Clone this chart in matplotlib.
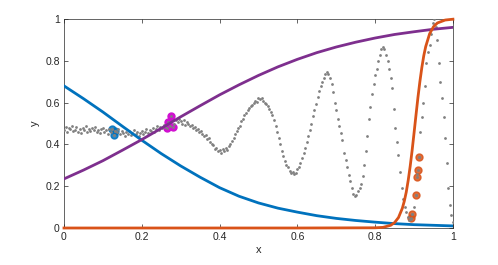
import numpy as np
import matplotlib
matplotlib.use("Agg")
import matplotlib.pyplot as plt

plt.rcParams['font.family'] = ['Liberation Sans', 'DejaVu Sans']

# noisy chirp-like samples (gray dots), x sampled every 0.004
data_x = np.linspace(0, 1, 251)
data_y = [
    0.47, 0.485, 0.46, 0.48, 0.475, 0.49, 0.465, 0.47, 0.485, 0.46,
    0.475, 0.455, 0.48, 0.47, 0.49, 0.46, 0.475, 0.465, 0.48, 0.47,
    0.485, 0.46, 0.47, 0.455, 0.475, 0.48, 0.46, 0.47, 0.45, 0.475,
    0.46, 0.472, 0.445, 0.464, 0.46, 0.475, 0.45, 0.465, 0.455, 0.44,
    0.46, 0.45, 0.465, 0.445, 0.455, 0.47, 0.45, 0.46, 0.44, 0.455,
    0.465, 0.45, 0.46, 0.475, 0.455, 0.47, 0.465, 0.48, 0.46, 0.475,
    0.49, 0.47, 0.485, 0.48, 0.495, 0.485, 0.478, 0.507, 0.49, 0.536,
    0.483, 0.50, 0.515, 0.505, 0.52, 0.51, 0.50, 0.515, 0.495, 0.505,
    0.50, 0.49, 0.495, 0.48, 0.485, 0.47, 0.475, 0.46, 0.465, 0.45,
    0.44, 0.445, 0.425, 0.43, 0.41, 0.40, 0.395, 0.38, 0.385, 0.37,
    0.375, 0.36, 0.38, 0.37, 0.385, 0.375, 0.39, 0.40, 0.415, 0.43,
    0.45, 0.465, 0.48, 0.49, 0.51, 0.52, 0.54, 0.55, 0.565, 0.575,
    0.585, 0.59, 0.60, 0.61, 0.605, 0.62, 0.615, 0.62, 0.61, 0.60,
    0.595, 0.585, 0.57, 0.555, 0.54, 0.515, 0.49, 0.46, 0.43, 0.40,
    0.37, 0.345, 0.32, 0.30, 0.29, 0.275, 0.265, 0.27, 0.26, 0.265,
    0.28, 0.29, 0.31, 0.335, 0.36, 0.385, 0.41, 0.44, 0.47, 0.50,
    0.535, 0.565, 0.595, 0.625, 0.655, 0.68, 0.70, 0.72, 0.735, 0.745,
    0.735, 0.72, 0.69, 0.65, 0.60, 0.565, 0.52, 0.49, 0.455, 0.42,
    0.36, 0.325, 0.29, 0.255, 0.225, 0.19, 0.165, 0.155, 0.16, 0.175,
    0.19, 0.21, 0.25, 0.30, 0.37, 0.44, 0.52, 0.58, 0.64, 0.69,
    0.73, 0.76, 0.80, 0.83, 0.855, 0.865, 0.855, 0.83, 0.80, 0.76,
    0.72, 0.67, 0.57, 0.48, 0.41, 0.35, 0.27, 0.19, 0.14, 0.10,
    0.075, 0.055, 0.04, 0.045, 0.065, 0.10, 0.16, 0.26, 0.34, 0.46,
    0.53, 0.60, 0.68, 0.79, 0.84, 0.875, 0.93, 0.98, 1.0, 0.96,
    0.90, 0.79, 0.70, 0.62, 0.53, 0.43, 0.31, 0.19, 0.11, 0.06,
    0.03,
]

# highlighted points
blue_x = [0.124, 0.128, 0.132]
blue_y = [0.472, 0.445, 0.464]
mag_x = [0.264, 0.268, 0.276, 0.280]
mag_y = [0.478, 0.507, 0.536, 0.483]
org_x = [0.892, 0.896, 0.904, 0.908, 0.910, 0.912]
org_y = [0.048, 0.067, 0.158, 0.244, 0.278, 0.34]

# fitted curves
curve_x = [0.0, 0.05, 0.1, 0.15, 0.2, 0.25, 0.3, 0.35, 0.4, 0.45, 0.5,
           0.55, 0.6, 0.65, 0.7, 0.75, 0.8, 0.85, 0.9, 0.95, 1.0]
blue_curve = [0.68, 0.619, 0.555, 0.487, 0.42, 0.356, 0.297, 0.243, 0.193,
              0.152, 0.12, 0.095, 0.076, 0.059, 0.046, 0.036, 0.028, 0.021,
              0.016, 0.013, 0.010]
purple_curve = [0.235, 0.277, 0.322, 0.372, 0.423, 0.477, 0.532, 0.585,
                0.637, 0.685, 0.730, 0.771, 0.807, 0.839, 0.866, 0.889,
                0.909, 0.926, 0.939, 0.951, 0.960]
orange_x = [0.0, 0.2, 0.4, 0.6, 0.8, 0.82, 0.84, 0.85, 0.86, 0.87, 0.875,
            0.88, 0.885, 0.89, 0.895, 0.9, 0.905, 0.91, 0.915, 0.92, 0.925,
            0.93, 0.94, 0.95, 0.96, 0.98, 1.0]
orange_curve = [0.0, 0.0, 0.0, 0.0, 0.001, 0.003, 0.013, 0.026, 0.05, 0.095,
                0.129, 0.172, 0.228, 0.294, 0.37, 0.454, 0.54, 0.624, 0.70,
                0.767, 0.824, 0.868, 0.929, 0.963, 0.981, 0.995, 0.999]

gray = (0.5, 0.5, 0.5)
blue = '#0072BD'
orange = '#D95319'
purple = '#7E2F8E'

fig = plt.figure(figsize=(4.98, 2.65), dpi=100)
ax = fig.add_axes([0.1285, 0.1396, 0.781, 0.7887])

ax.plot(blue_x, blue_y, 'o', ms=5, color=blue, mec=blue, alpha=0.85, zorder=2)
ax.plot(mag_x, mag_y, 'o', ms=5, color='#D010D0', mec='#D010D0', zorder=2)
ax.plot(org_x, org_y, 'o', ms=5, color=orange, mec=orange, alpha=0.85, zorder=2)

ax.plot(data_x, data_y, 'o', ms=2, color=gray, mec='none', zorder=3)
ax.plot(blue_x + org_x, blue_y + org_y, 'o', ms=2, color=gray, mec='none', zorder=3)

ax.plot(curve_x, blue_curve, color=blue, lw=2, zorder=4)
ax.plot(curve_x, purple_curve, color=purple, lw=2, zorder=4)
ax.plot(orange_x, orange_curve, color=orange, lw=2, zorder=4, clip_on=False)

ax.set_xlim(0, 1)
ax.set_ylim(0, 1)
ticks = [0, 0.2, 0.4, 0.6, 0.8, 1]
labels = ['0', '0.2', '0.4', '0.6', '0.8', '1']
ax.set_xticks(ticks)
ax.set_xticklabels(labels)
ax.set_yticks(ticks)
ax.set_yticklabels(labels)
ax.tick_params(direction='in', length=3, width=0.5, colors='#262626',
               labelsize=7.5, top=True, right=True, pad=3)
for s in ax.spines.values():
    s.set_color('#262626')
    s.set_linewidth(0.5)
ax.set_xlabel('x', fontsize=8, color='#262626', labelpad=2)
ax.set_ylabel('y', fontsize=8, color='#262626', labelpad=4)

fig.savefig('out.png', dpi=100)
